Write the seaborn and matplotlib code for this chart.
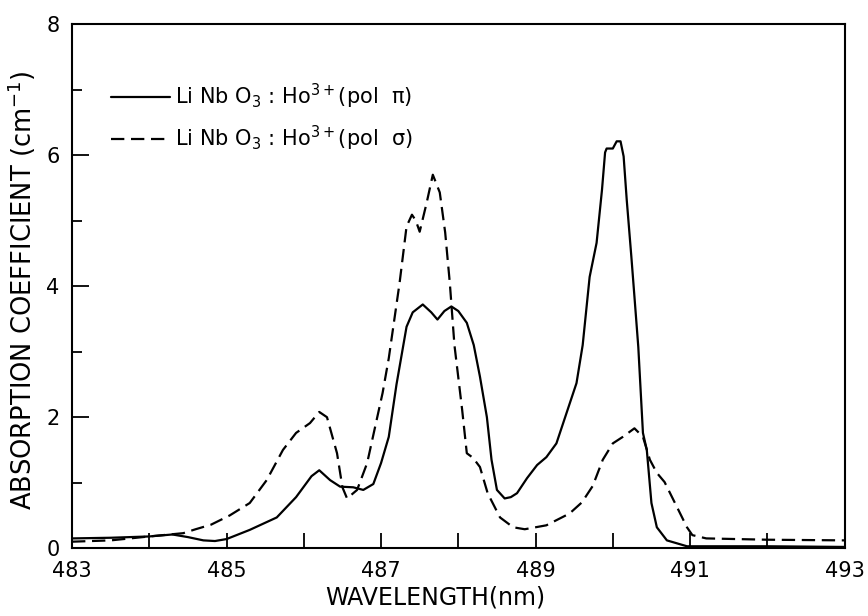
import numpy as np
import pandas as pd
import seaborn as sns
import matplotlib
import matplotlib.pyplot as plt
from matplotlib.ticker import MultipleLocator

# spectrum
pi_wl = [483.0, 483.5, 484.0, 484.3, 484.5, 484.7, 484.85, 485.0, 485.3, 485.65,
         485.9, 486.1, 486.2, 486.34, 486.47, 486.64, 486.77, 486.9, 487.0, 487.1,
         487.2, 487.33, 487.41, 487.54, 487.65, 487.73, 487.82, 487.91, 488.0, 488.11,
         488.2, 488.28, 488.37, 488.43, 488.5, 488.6, 488.68, 488.76, 488.89, 489.02,
         489.14, 489.27, 489.4, 489.53, 489.61, 489.7, 489.79, 489.86, 489.9, 489.92,
         490.0, 490.05, 490.1, 490.14, 490.18, 490.24, 490.28, 490.33, 490.39, 490.44,
         490.5, 490.57, 490.7, 490.96, 491.5, 492.0, 493.0]
pi_abs = [0.15, 0.16, 0.18, 0.21, 0.17, 0.12, 0.11, 0.14, 0.28, 0.47,
          0.78, 1.1, 1.19, 1.04, 0.94, 0.93, 0.89, 0.98, 1.3, 1.7,
          2.5, 3.38, 3.6, 3.72, 3.6, 3.49, 3.62, 3.69, 3.62, 3.44,
          3.1, 2.62, 2.0, 1.35, 0.89, 0.76, 0.78, 0.84, 1.07, 1.27,
          1.39, 1.6, 2.06, 2.52, 3.1, 4.14, 4.66, 5.47, 6.04, 6.1,
          6.1, 6.21, 6.21, 5.98, 5.32, 4.45, 3.84, 3.07, 1.76, 1.5,
          0.69, 0.32, 0.12, 0.03, 0.03, 0.03, 0.02]

sigma_wl = [483.0, 483.5, 484.0, 484.44, 484.6, 484.8, 485.04, 485.3, 485.52, 485.73,
            485.9, 486.08, 486.2, 486.3, 486.43, 486.5, 486.56, 486.69, 486.82, 487.02,
            487.1, 487.24, 487.33, 487.4, 487.45, 487.5, 487.59, 487.67, 487.76, 487.83,
            487.89, 487.95, 488.05, 488.11, 488.19, 488.28, 488.38, 488.54, 488.71, 488.86,
            489.14, 489.44, 489.6, 489.74, 489.87, 490.0, 490.13, 490.28, 490.39, 490.48,
            490.57, 490.67, 490.83, 490.96, 491.03, 491.21, 492.0, 493.0]
sigma_abs = [0.1, 0.12, 0.18, 0.23, 0.29, 0.36, 0.5, 0.69, 1.04, 1.5,
             1.76, 1.91, 2.08, 2.0, 1.45, 0.93, 0.76, 0.89, 1.3, 2.37,
             2.9, 4.05, 4.91, 5.09, 5.0, 4.83, 5.27, 5.7, 5.43, 4.82,
             4.05, 3.1, 2.11, 1.45, 1.38, 1.24, 0.84, 0.47, 0.32, 0.29,
             0.35, 0.53, 0.7, 0.95, 1.35, 1.6, 1.7, 1.83, 1.7, 1.35,
             1.15, 1.01, 0.63, 0.32, 0.2, 0.15, 0.13, 0.12]

label_pi = r"Li Nb O$_3$ : Ho$^{3+}$(pol  π)"
label_sigma = r"Li Nb O$_3$ : Ho$^{3+}$(pol  σ)"

x_ticks = [483, 485, 487, 489, 491, 493]
y_ticks = [0, 2, 4, 6, 8]

df = pd.concat([
    pd.DataFrame({"wl": pi_wl, "abs": pi_abs, "pol": label_pi}),
    pd.DataFrame({"wl": sigma_wl, "abs": sigma_abs, "pol": label_sigma}),
])

sns.set_style("ticks")
plt.rcParams["font.family"] = ["DejaVu Sans"]
plt.rcParams["mathtext.fontset"] = "dejavusans"
for key in ["text.color", "axes.labelcolor", "xtick.color", "ytick.color", "axes.edgecolor"]:
    plt.rcParams[key] = "black"

fig = plt.figure(figsize=(8.68, 6.16), dpi=100)
ax = fig.add_axes([0.083, 0.110, 0.890, 0.851])

sns.lineplot(
    data=df, x="wl", y="abs", style="pol",
    style_order=[label_pi, label_sigma],
    dashes={label_pi: "", label_sigma: (6, 3)},
    color="black", linewidth=1.6, estimator=None, sort=False, ax=ax,
)

ax.set_xlim(483, 493)
ax.set_ylim(0, 8)
ax.set_xticks(x_ticks)
ax.set_yticks(y_ticks)
ax.xaxis.set_minor_locator(MultipleLocator(1))
ax.yaxis.set_minor_locator(MultipleLocator(1))
ax.tick_params(which="major", direction="in", length=11, width=1.3,
               labelsize=15, pad=9)
ax.tick_params(axis="y", which="major", length=12)
ax.tick_params(which="minor", direction="in", length=7, width=1.3)
ax.tick_params(axis="x", which="minor", length=11)
for s in ax.spines.values():
    s.set_linewidth(1.5)

ax.set_xlabel("WAVELENGTH(nm)", fontsize=17)
ax.set_ylabel("ABSORPTION COEFFICIENT (cm$^{-1}$)", fontsize=18.5)
ax.xaxis.set_label_coords(0.47, -0.071)
ax.yaxis.set_label_coords(-0.044, 0.493)

handles, labels = ax.get_legend_handles_labels()
ax.legend(handles, labels, loc="upper left", bbox_to_anchor=(0.04, 0.905),
          frameon=False, fontsize=15, handlelength=2.8, handletextpad=0.25,
          labelspacing=0.6, borderaxespad=0)

fig.savefig("out.png", dpi=100)
